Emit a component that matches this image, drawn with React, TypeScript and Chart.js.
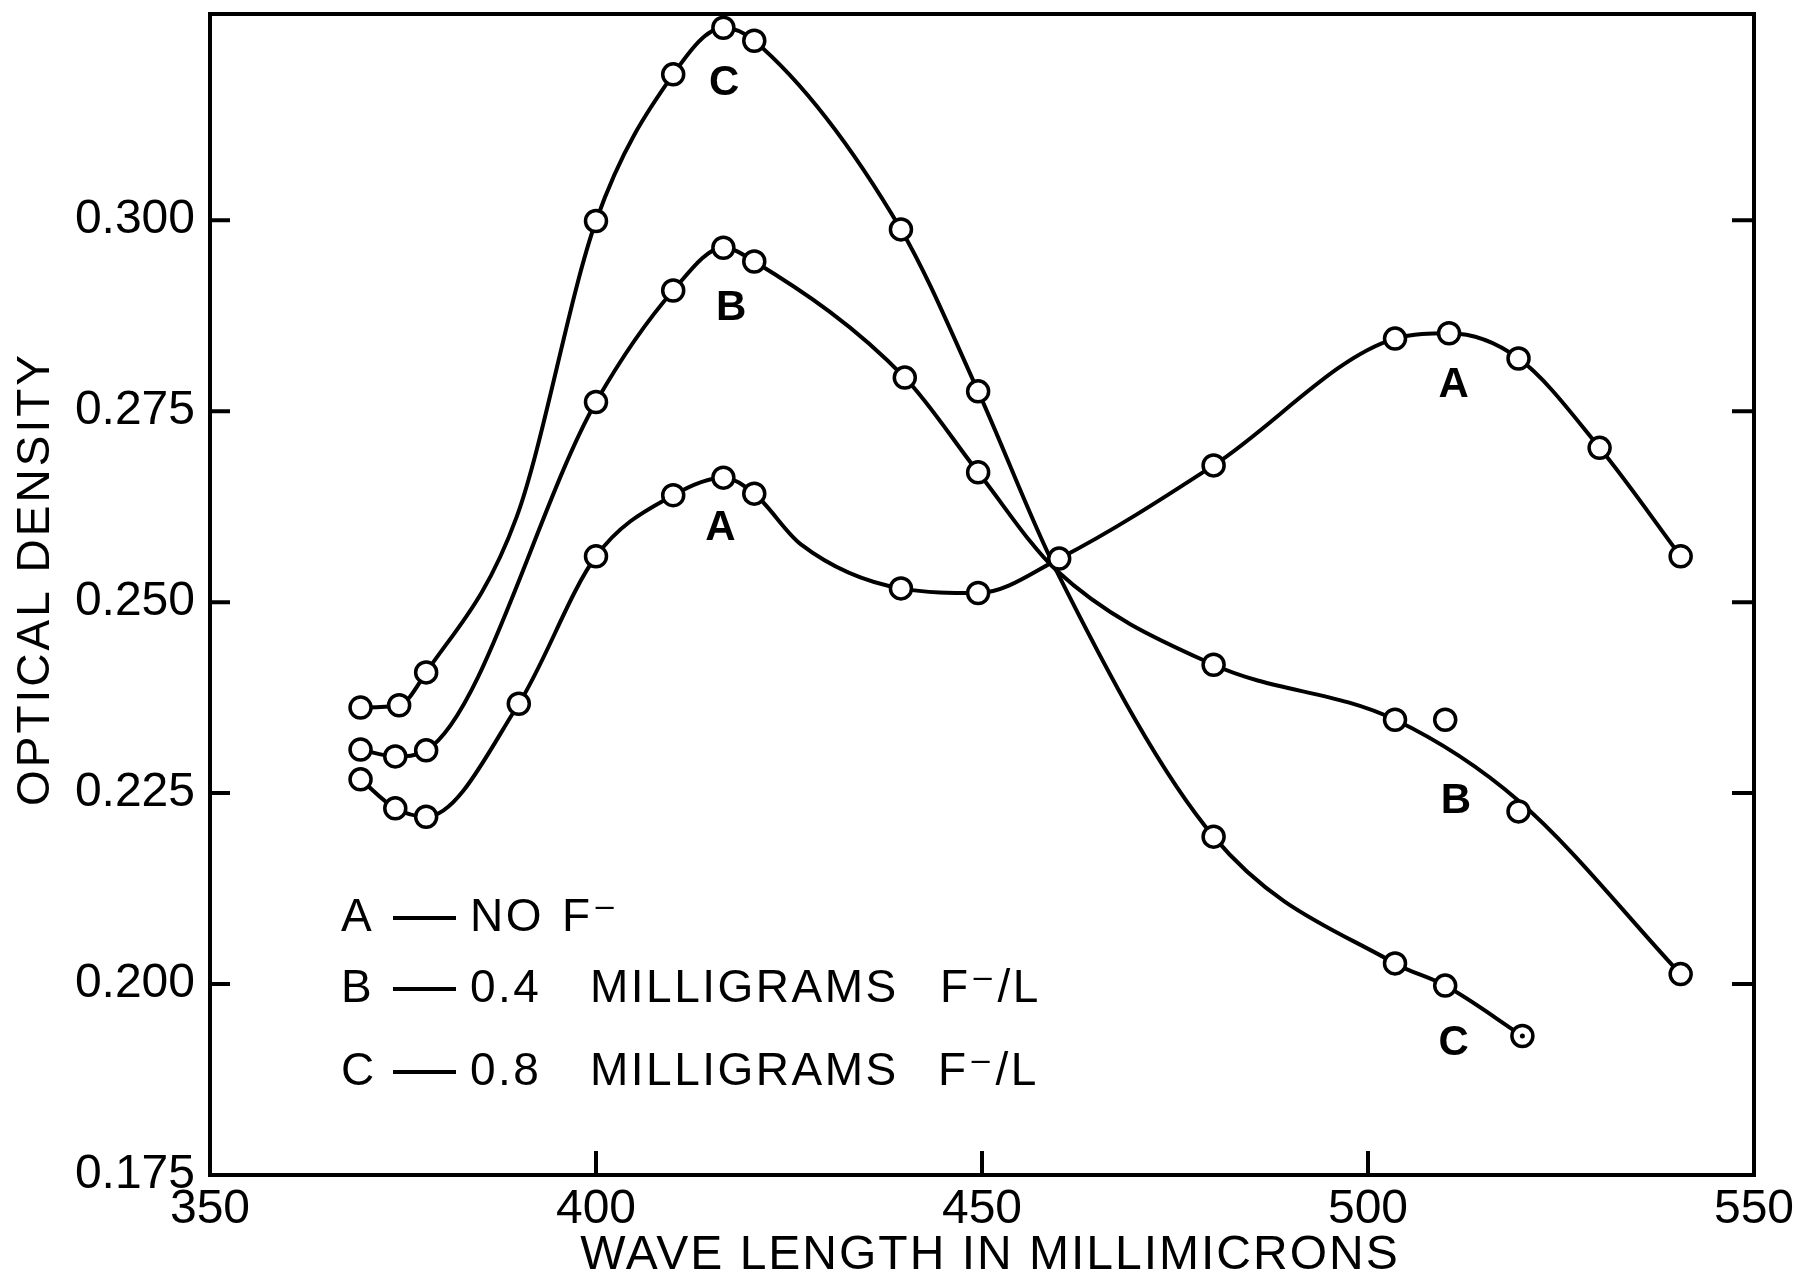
import React, { useEffect, useRef } from 'react';
import { Chart, registerables } from 'chart.js';

Chart.register(...registerables);

// ---- measured points (wavelength in millimicrons, optical density) ----
const waveA = [369.5, 374, 378, 390, 400, 410, 416.5, 420.5, 439.5, 449.5, 460, 480, 503.5, 510.5, 519.5, 530, 540.5];
const densA = [0.2268, 0.223, 0.2219, 0.2367, 0.256, 0.264, 0.2663, 0.2642, 0.2518, 0.2512, 0.2557, 0.2679, 0.2845, 0.2852, 0.2819, 0.2702, 0.256];

const waveB = [369.5, 374, 378, 400, 410, 416.5, 420.5, 440, 449.5, 480, 503.5, 510, 519.5, 540.5];
const densB = [0.2307, 0.2298, 0.2306, 0.2762, 0.2908, 0.2964, 0.2946, 0.2794, 0.267, 0.2418, 0.2346, 0.2346, 0.2226, 0.2013];

const waveC = [369.5, 374.5, 378, 400, 410, 416.5, 420.5, 439.5, 449.5, 480, 503.5, 510, 520];
const densC = [0.2362, 0.2365, 0.2408, 0.2999, 0.3191, 0.3252, 0.3235, 0.2988, 0.2776, 0.2193, 0.2027, 0.1998, 0.1932];

// ---- drawn curves (knots traced along the hand-drawn lines of the figure) ----
const curveWaveA = [369.5, 374, 378, 390, 400, 410, 416.5, 420.5, 426.5, 439.5, 449.5, 460, 480, 503.5, 510.5, 519.5, 530, 540.5];
const curveDensA = [0.2268, 0.223, 0.2219, 0.2367, 0.256, 0.264, 0.2663, 0.2642, 0.2576, 0.2518, 0.2512, 0.2557, 0.2679, 0.2845, 0.2852, 0.2819, 0.2702, 0.256];
const curveWaveB = [369.5, 374, 378, 400, 410, 416.5, 420.5, 440, 449.5, 459.6, 480, 503.5, 519.5, 540.5];
const curveDensB = [0.2307, 0.2298, 0.2306, 0.2762, 0.2908, 0.2964, 0.2946, 0.2794, 0.267, 0.2542, 0.2418, 0.2346, 0.224, 0.2013];
const curveWaveC = [369.5, 374.5, 378, 389.7, 400, 410, 416.5, 420.5, 439.5, 449.5, 459.6, 480, 503.5, 510, 520];
const curveDensC = [0.2362, 0.2365, 0.2408, 0.2611, 0.2999, 0.3191, 0.3252, 0.3235, 0.2988, 0.2776, 0.2542, 0.2193, 0.2027, 0.1998, 0.1932];

// ---- axes ----
const xTicks = [350, 400, 450, 500, 550];
const yTicks = [0.175, 0.2, 0.225, 0.25, 0.275, 0.3];
const innerYTicks = [0.2, 0.225, 0.25, 0.275, 0.3];
const innerXTicks = [400, 450, 500];
const xTitle = 'WAVE LENGTH IN MILLIMICRONS';
const yTitle = 'OPTICAL DENSITY';

// ---- curve labels (text, wavelength, density) ----
const curveLabelText = ['C', 'B', 'A', 'A', 'B', 'C'];
const curveLabelWave = [416.6, 417.5, 416.1, 511.1, 511.4, 511.1];
const curveLabelDens = [0.3179, 0.2884, 0.2597, 0.2784, 0.2239, 0.1922];

// ---- key ----
const keyLetters = ['A', 'B', 'C'];
const keyWords = [['NO', 'F⁻'], ['0.4', 'MILLIGRAMS', 'F⁻/L'], ['0.8', 'MILLIGRAMS', 'F⁻/L']];

const FONT = '"Liberation Sans", "DejaVu Sans", Arial, sans-serif';

const pts = (xs: number[], ys: number[]) => xs.map((x, i) => ({ x, y: ys[i] }));

const decorPlugin = {
  id: 'decor',
  afterDatasetsDraw(chart: any) {
    const { ctx, chartArea: a, scales } = chart;
    const x = scales.x;
    const y = scales.y;
    ctx.save();
    ctx.strokeStyle = '#000';
    ctx.fillStyle = '#000';
    ctx.lineCap = 'butt';

    // frame
    ctx.lineWidth = 4;
    ctx.strokeRect(a.left, a.top, a.right - a.left, a.bottom - a.top);

    // inward ticks
    ctx.lineWidth = 4;
    for (const v of innerYTicks) {
      const py = y.getPixelForValue(v);
      ctx.beginPath();
      ctx.moveTo(a.left, py);
      ctx.lineTo(a.left + 20, py);
      ctx.moveTo(a.right, py);
      ctx.lineTo(a.right - 22, py);
      ctx.stroke();
    }
    for (const v of innerXTicks) {
      const px = x.getPixelForValue(v);
      ctx.beginPath();
      ctx.moveTo(px, a.bottom);
      ctx.lineTo(px, a.bottom - 24);
      ctx.stroke();
    }

    // dot inside last C marker
    const metaC = chart.getDatasetMeta(5);
    const lastC = metaC.data[metaC.data.length - 1];
    if (lastC) {
      ctx.beginPath();
      ctx.arc(lastC.x, lastC.y, 2.5, 0, Math.PI * 2);
      ctx.fill();
    }

    // curve labels
    ctx.font = `bold 42px ${FONT}`;
    ctx.textAlign = 'center';
    ctx.textBaseline = 'middle';
    curveLabelText.forEach((t, i) => {
      ctx.fillText(t, x.getPixelForValue(curveLabelWave[i]), y.getPixelForValue(curveLabelDens[i]));
    });

    // key
    const rowY = [a.top + 904, a.top + 975, a.top + 1058];
    const wordX = [[260, 352], [260, 380, 730], [260, 380, 728]];
    ctx.textAlign = 'left';
    ctx.font = `46px ${FONT}`;
    (ctx as any).letterSpacing = '2.5px';
    keyLetters.forEach((k, r) => {
      const yy = rowY[r];
      ctx.fillText(k, a.left + 131, yy);
      ctx.lineWidth = 4;
      ctx.beginPath();
      ctx.moveTo(a.left + 183, yy);
      ctx.lineTo(a.left + 246, yy);
      ctx.stroke();
      keyWords[r].forEach((w, j) => ctx.fillText(w, a.left + wordX[r][j], yy));
    });

    // axis titles
    ctx.font = `48px ${FONT}`;
    (ctx as any).letterSpacing = '2px';
    ctx.textAlign = 'center';
    ctx.fillText(xTitle, (a.left + a.right) / 2 + 8, 1256);
    ctx.save();
    ctx.translate(36, 579);
    ctx.rotate(-Math.PI / 2);
    ctx.font = `46px ${FONT}`;
    (ctx as any).letterSpacing = '3px';
    ctx.fillText(yTitle, 0, 0);
    ctx.restore();

    ctx.restore();
  },
};

export default function App() {
  const ref = useRef<HTMLCanvasElement>(null);
  useEffect(() => {
    document.body.style.margin = '0';
    const lineDs = (xs: number[], ys: number[]) => ({
      type: 'scatter' as const,
      data: pts(xs, ys),
      showLine: true,
      borderColor: '#000',
      borderWidth: 4,
      pointRadius: 0,
      cubicInterpolationMode: 'monotone' as const,
      fill: false,
      order: 2,
      clip: false as any,
    });
    const markDs = (xs: number[], ys: number[]) => ({
      type: 'scatter' as const,
      data: pts(xs, ys),
      showLine: false,
      pointRadius: 10.5,
      pointBorderWidth: 3.5,
      pointBorderColor: '#000',
      pointBackgroundColor: '#fff',
      order: 1,
      clip: false as any,
    });
    const chart = new Chart(ref.current as HTMLCanvasElement, {
      type: 'scatter',
      data: {
        datasets: [
          lineDs(curveWaveA, curveDensA),
          lineDs(curveWaveB, curveDensB),
          lineDs(curveWaveC, curveDensC),
          markDs(waveA, densA),
          markDs(waveB, densB),
          markDs(waveC, densC),
        ] as any,
      },
      options: {
        animation: false,
        responsive: false,
        devicePixelRatio: 1,
        layout: { padding: { top: 11, right: 44, left: 0, bottom: 0 } },
        plugins: { legend: { display: false }, tooltip: { enabled: false } },
        events: [],
        scales: {
          x: {
            type: 'linear',
            min: 350,
            max: 550,
            afterBuildTicks: (s: any) => { s.ticks = xTicks.map((v) => ({ value: v })); },
            afterFit: (s: any) => { s.height = 104; s.paddingLeft = 0; s.paddingRight = 0; },
            grid: { display: false, drawTicks: false },
            border: { display: false },
            ticks: {
              color: '#000',
              padding: 6,
              maxRotation: 0,
              font: { family: FONT, size: 48 },
              callback: (v: any) => String(v),
            },
          },
          y: {
            type: 'linear',
            min: 0.175,
            max: 0.327,
            afterBuildTicks: (s: any) => { s.ticks = yTicks.map((v) => ({ value: v })); },
            afterFit: (s: any) => { s.width = 210; s.paddingTop = 0; s.paddingBottom = 0; },
            grid: { display: false, drawTicks: false },
            border: { display: false },
            ticks: {
              color: '#000',
              padding: 15,
              font: { family: FONT, size: 48 },
              callback: (v: any) => Number(v).toFixed(3),
            },
          },
        },
      },
      plugins: [decorPlugin],
    });
    return () => chart.destroy();
  }, []);
  return (
    <div style={{ width: 1798, height: 1279 }}>
      <canvas ref={ref} width={1798} height={1279} style={{ display: 'block', width: 1798, height: 1279 }} />
    </div>
  );
}
